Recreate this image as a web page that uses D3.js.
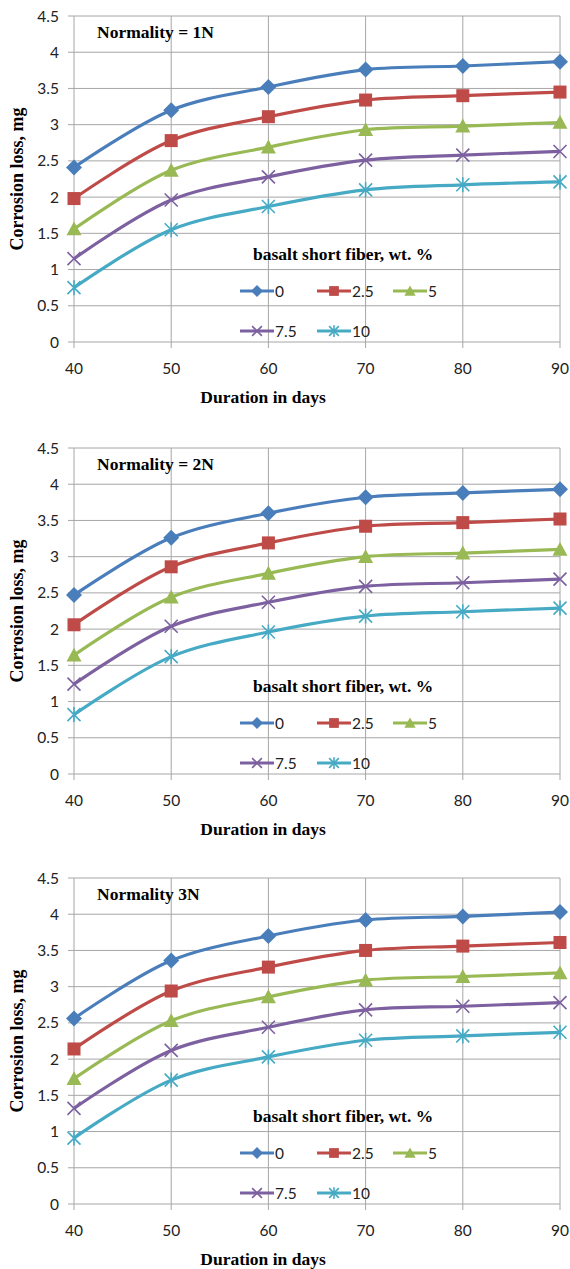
<!DOCTYPE html>
<html>
<head>
<meta charset="utf-8">
<script src="https://cdn.jsdelivr.net/npm/d3@7"></script>
<style>
  body { margin: 0; background: #fff; }
  .tick-label { font-family: Lato, "Open Sans", sans-serif; font-size: 15.5px; fill: #222; }
  .serif-b { font-family: "Liberation Serif", "Times New Roman", serif; font-weight: bold; fill: #000; }
</style>
</head>
<body>
<svg id="chart" width="570" height="1269"></svg>
<script>
// durations (days) on the x axis
const days = [40, 50, 60, 70, 80, 90];
const fiberLevels = ["0", "2.5", "5", "7.5", "10"];
const panelTitles = ["Normality = 1N", "Normality = 2N", "Normality 3N"];
const yTicks = [0, 0.5, 1, 1.5, 2, 2.5, 3, 3.5, 4, 4.5];

// corrosion loss, mg  (one row per fiber wt. %)
const loss1N = [
    [2.41, 3.20, 3.52, 3.76, 3.81, 3.87],
    [1.98, 2.78, 3.11, 3.34, 3.40, 3.45],
    [1.56, 2.37, 2.69, 2.93, 2.98, 3.03],
    [1.15, 1.96, 2.28, 2.51, 2.58, 2.63],
    [0.75, 1.55, 1.87, 2.10, 2.17, 2.21]
];
const loss2N = [
    [2.47, 3.26, 3.60, 3.82, 3.88, 3.93],
    [2.06, 2.86, 3.19, 3.42, 3.47, 3.52],
    [1.64, 2.44, 2.77, 3.00, 3.05, 3.10],
    [1.24, 2.04, 2.37, 2.59, 2.64, 2.69],
    [0.82, 1.62, 1.96, 2.18, 2.24, 2.29]
];
const loss3N = [
    [2.56, 3.36, 3.70, 3.92, 3.97, 4.03],
    [2.14, 2.94, 3.27, 3.50, 3.56, 3.61],
    [1.73, 2.53, 2.86, 3.09, 3.14, 3.19],
    [1.32, 2.12, 2.44, 2.68, 2.73, 2.78],
    [0.91, 1.71, 2.03, 2.26, 2.32, 2.37]
];

const colors = ["#4a7ebb", "#be4b48", "#98b954", "#7d60a0", "#46aac5"];
const markers = ["diamond", "square", "triangle", "cross", "star"];

const svg = d3.select("#chart");

const left = 74, right = 560, plotH = 326;
const panelTops = [16, 448, 878];
const panelData = [loss1N, loss2N, loss3N];

const x = d3.scaleLinear().domain([40, 90]).range([left, right]);

function drawMarker(g, type, color, cx, cy, k) {
    k = k || 1;
    if (type === "diamond") {
        const r = 8 * k;
        g.append("path").attr("d", `M${cx},${cy - r}L${cx + r},${cy}L${cx},${cy + r}L${cx - r},${cy}Z`)
            .attr("fill", color);
    } else if (type === "square") {
        const s = 6.5 * k;
        g.append("rect").attr("x", cx - s).attr("y", cy - s).attr("width", 2 * s).attr("height", 2 * s)
            .attr("fill", color);
    } else if (type === "triangle") {
        const s = 7.5 * k;
        g.append("path").attr("d", `M${cx},${cy - s}L${cx + s},${cy + s * 0.85}L${cx - s},${cy + s * 0.85}Z`)
            .attr("fill", color);
    } else if (type === "cross") {
        const s = 6.5 * k;
        g.append("path").attr("d", `M${cx - s},${cy - s}L${cx + s},${cy + s}M${cx - s},${cy + s}L${cx + s},${cy - s}`)
            .attr("stroke", color).attr("stroke-width", 1.6);
    } else if (type === "star") {
        const s = 6.5 * k;
        g.append("path").attr("d", `M${cx - s},${cy - s}L${cx + s},${cy + s}M${cx - s},${cy + s}L${cx + s},${cy - s}M${cx},${cy - s - 1}L${cx},${cy + s + 1}`)
            .attr("stroke", color).attr("stroke-width", 1.6);
    }
}

panelTops.forEach((top, pi) => {
    const y = d3.scaleLinear().domain([0, 4.5]).range([top + plotH, top]);
    const g = svg.append("g");

    // grid
    g.append("g").selectAll("line").data(yTicks).join("line")
        .attr("x1", left - 6).attr("x2", right)
        .attr("y1", d => y(d)).attr("y2", d => y(d))
        .attr("stroke", "#a6a6a6").attr("stroke-width", 1);
    g.append("g").selectAll("line").data(days).join("line")
        .attr("x1", d => x(d)).attr("x2", d => x(d))
        .attr("y1", top).attr("y2", top + plotH + 6)
        .attr("stroke", "#a6a6a6").attr("stroke-width", 1);

    // tick labels
    g.append("g").selectAll("text").data(yTicks).join("text")
        .attr("class", "tick-label")
        .attr("x", left - 15).attr("y", d => y(d) + 5.5)
        .attr("text-anchor", "end")
        .text(d => d);
    g.append("g").selectAll("text").data(days).join("text")
        .attr("class", "tick-label")
        .attr("x", d => x(d)).attr("y", top + plotH + 32)
        .attr("text-anchor", "middle")
        .text(d => d);

    // axis titles
    g.append("text").attr("class", "serif-b")
        .attr("transform", `translate(23,${top + plotH / 2}) rotate(-90)`)
        .attr("text-anchor", "middle").attr("font-size", 18)
        .text("Corrosion loss, mg");
    g.append("text").attr("class", "serif-b")
        .attr("x", 263).attr("y", top + plotH + 61)
        .attr("text-anchor", "middle").attr("font-size", 17.5)
        .text("Duration in days");

    // panel title
    g.append("text").attr("class", "serif-b")
        .attr("x", 97).attr("y", top + 22)
        .attr("font-size", 17.5)
        .text(panelTitles[pi]);

    // series
    const line = d3.line()
        .x((d, i) => x(days[i]))
        .y(d => y(d))
        .curve(d3.curveCatmullRom.alpha(0.5));

    panelData[pi].forEach((vals, si) => {
        g.append("path").datum(vals)
            .attr("d", line)
            .attr("fill", "none")
            .attr("stroke", colors[si])
            .attr("stroke-width", 3.2);
        const mg = g.append("g");
        vals.forEach((v, i) => drawMarker(mg, markers[si], colors[si], x(days[i]), y(v)));
    });

    // legend
    g.append("text").attr("class", "serif-b")
        .attr("x", 253).attr("y", top + 244)
        .attr("font-size", 17.5)
        .text("basalt short fiber, wt. %");

    const legendPos = [[240, 275], [317, 275], [393, 275], [240, 315], [317, 315]];
    fiberLevels.forEach((lab, si) => {
        const [lx, ly] = legendPos[si];
        const cy = top + ly;
        g.append("line").attr("x1", lx).attr("x2", lx + 34)
            .attr("y1", cy).attr("y2", cy)
            .attr("stroke", colors[si]).attr("stroke-width", 3.2);
        const mg = g.append("g");
        drawMarker(mg, markers[si], colors[si], lx + 17, cy, 0.75);
        g.append("text").attr("class", "tick-label")
            .attr("x", lx + 35).attr("y", cy + 5.5)
            .attr("font-size", 16.5)
            .text(lab);
    });
});
</script>
</body>
</html>
